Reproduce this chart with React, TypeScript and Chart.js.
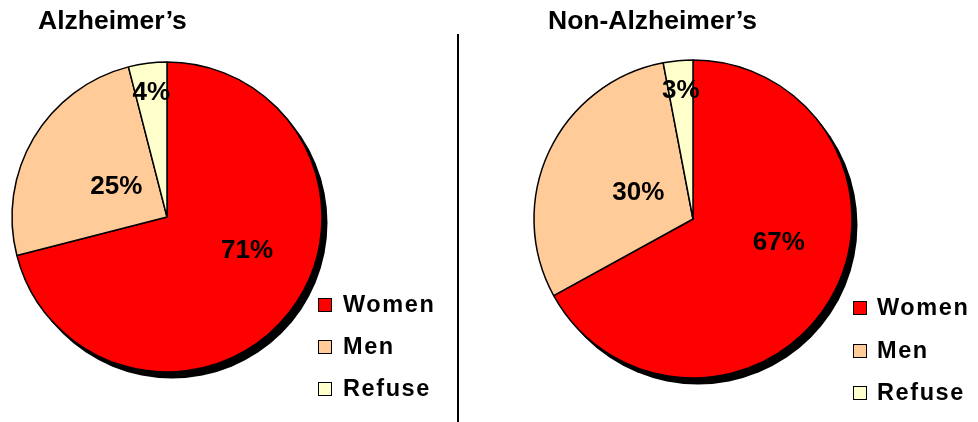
import React, { useEffect, useRef } from 'react';
import { Chart, registerables } from 'chart.js';

Chart.register(...registerables);

// ---- data ----
const categories = ['Women', 'Men', 'Refuse'];
const alzheimerValues = [71, 25, 4];
const nonAlzheimerValues = [67, 30, 3];
const chartTitles = ['Alzheimer’s', 'Non-Alzheimer’s'];
const sliceColors = ['#FF0000', '#FFCC99', '#FFFFCC'];

const FONT = '"Liberation Sans", Arial, Helvetica, sans-serif';

const shadowPlugin = {
  id: 'pieShadow',
  beforeDatasetsDraw(chart: any, _args: any, opts: any) {
    const arc = chart.getDatasetMeta(0).data[0];
    if (!arc) return;
    const { x, y, outerRadius } = arc.getProps(['x', 'y', 'outerRadius'], true);
    const ctx = chart.ctx;
    ctx.save();
    ctx.filter = 'blur(0.7px)';
    ctx.fillStyle = '#000';
    ctx.beginPath();
    ctx.arc(x + opts.dx, y + opts.dy, outerRadius + 0.5, 0, Math.PI * 2);
    ctx.fill();
    ctx.restore();
  },
};

const pctLabelPlugin = {
  id: 'pctLabels',
  afterDatasetsDraw(chart: any, _args: any, opts: any) {
    const meta = chart.getDatasetMeta(0);
    const values: number[] = chart.data.datasets[0].data;
    const total = values.reduce((a, b) => a + b, 0);
    const ctx = chart.ctx;
    ctx.save();
    ctx.font = `bold ${opts.size}px ${FONT}`;
    ctx.fillStyle = '#000';
    ctx.textAlign = 'center';
    ctx.textBaseline = 'middle';
    meta.data.forEach((el: any, i: number) => {
      const { x, y, startAngle, endAngle, outerRadius } = el.getProps(
        ['x', 'y', 'startAngle', 'endAngle', 'outerRadius'],
        true
      );
      const p = opts.placement[i];
      const a = (startAngle + endAngle) / 2 + (p.turn * Math.PI) / 180;
      const r = outerRadius * p.r;
      const txt = Math.round((values[i] / total) * 100) + '%';
      ctx.fillText(txt, x + Math.cos(a) * r, y + Math.sin(a) * r);
    });
    ctx.restore();
  },
};

function makePie(canvas: HTMLCanvasElement, values: number[], radius: number, padding: any) {
  return new Chart(canvas, {
    type: 'pie',
    data: {
      labels: categories,
      datasets: [
        {
          data: values,
          backgroundColor: sliceColors,
          borderColor: '#000',
          borderWidth: 1.5,
          radius: radius,
        } as any,
      ],
    },
    options: {
      responsive: false,
      animation: false,
      events: [],
      layout: { padding },
      plugins: {
        legend: { display: false },
        tooltip: { enabled: false },
        title: { display: false },
        pieShadow: { dx: 5, dy: 6 },
        pctLabels: {
          size: 26,
          placement: [
            { r: 0.56, turn: -15 },
            { r: 0.38, turn: 0 },
            { r: 0.81, turn: 0 },
          ],
        },
      } as any,
    },
    plugins: [shadowPlugin, pctLabelPlugin],
  });
}

function Legend({ boxLeft, textLeft, firstTop, step }: any) {
  return (
    <>
      {categories.map((c, i) => {
        const top = firstTop + i * step;
        return (
          <React.Fragment key={c}>
            <div
              style={{
                position: 'absolute',
                left: boxLeft,
                top: top,
                width: 14,
                height: 14,
                boxSizing: 'border-box',
                border: '1.6px solid #000',
                background: sliceColors[i],
              }}
            />
            <div
              style={{
                position: 'absolute',
                left: textLeft,
                top: top + 15 - 19.9,
                fontFamily: FONT,
                fontWeight: 'bold',
                fontSize: '23.5px',
                lineHeight: '23.5px',
                letterSpacing: '1.6px',
                whiteSpace: 'nowrap',
                color: '#000',
              }}
            >
              {c}
            </div>
          </React.Fragment>
        );
      })}
    </>
  );
}

export default function App() {
  const ref1 = useRef<HTMLCanvasElement>(null);
  const ref2 = useRef<HTMLCanvasElement>(null);

  useEffect(() => {
    const c1 = makePie(ref1.current!, alzheimerValues, 155, { left: 12, right: 135, top: 62, bottom: 50 });
    const c2 = makePie(ref2.current!, nonAlzheimerValues, 159, { left: 74, right: 126, top: 60, bottom: 44 });
    return () => {
      c1.destroy();
      c2.destroy();
    };
  }, []);

  const titleStyle: React.CSSProperties = {
    position: 'absolute',
    top: 6.6,
    fontFamily: FONT,
    fontWeight: 'bold',
    fontSize: '26.5px',
    lineHeight: '26.5px',
    whiteSpace: 'nowrap',
    color: '#000',
  };

  return (
    <div style={{ position: 'absolute', left: 0, top: 0, width: 978, height: 422, background: '#fff', overflow: 'hidden' }}>
      <canvas ref={ref1} width={457} height={422} style={{ position: 'absolute', left: 0, top: 0, width: 457, height: 422 }} />
      <canvas ref={ref2} width={518} height={422} style={{ position: 'absolute', left: 460, top: 0, width: 518, height: 422 }} />
      <div style={{ ...titleStyle, left: 38 }}>{chartTitles[0]}</div>
      <div style={{ ...titleStyle, left: 548 }}>{chartTitles[1]}</div>
      <div style={{ position: 'absolute', left: 456.5, top: 34, width: 2, height: 388, background: '#000' }} />
      <Legend boxLeft={318} textLeft={343} firstTop={298} step={42} />
      <Legend boxLeft={853} textLeft={877} firstTop={301} step={42.5} />
    </div>
  );
}
